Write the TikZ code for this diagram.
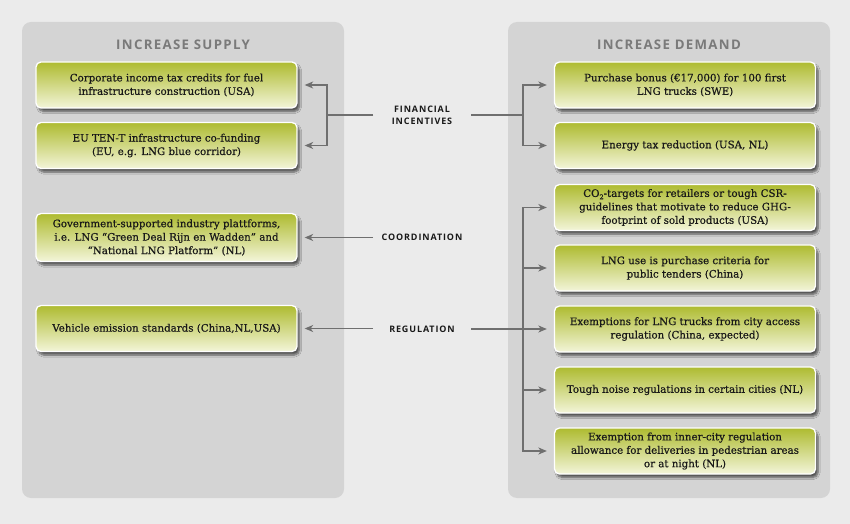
\documentclass[tikz,border=0pt]{standalone}
\usepackage{fontspec}
\setmainfont[FakeBold=0.6]{DejaVu Serif}
\newfontfamily\labfont[LetterSpace=10]{Open Sans}
\newfontfamily\titfont[LetterSpace=10]{Open Sans}
\usetikzlibrary{arrows.meta,shadows.blur}
\definecolor{bgc}{HTML}{EBEBEB}
\definecolor{panelc}{HTML}{D4D4D4}
\definecolor{oltop}{HTML}{AEBB30}
\definecolor{olbot}{HTML}{F3F5D9}
\definecolor{linec}{HTML}{6F6F6F}
\definecolor{titc}{HTML}{7A7A7A}
\tikzset{
  box/.style={draw=white, line width=1.3bp, rounded corners=5bp,
    top color=oltop, bottom color=olbot, middle color=oltop!50!olbot,
    minimum width=261bp, minimum height=46bp, align=center, inner sep=2bp,
    font=\fontsize{10.3}{13.5}\selectfont, text=black!90,
    blur shadow={shadow xshift=2.5bp, shadow yshift=-3.5bp, shadow opacity=60, shadow blur steps=6}},
  panel/.style={fill=panelc, rounded corners=9bp},
  lab/.style={font=\labfont\bfseries\fontsize{9}{12}\selectfont, text=black!90, align=center},
  tit/.style={font=\titfont\bfseries\fontsize{13.3}{15}\selectfont, text=titc},
  arr/.style={draw=linec, line width=1.7bp, -{Stealth[length=8.5bp,width=7bp,inset=2.5bp]}, shorten >=7bp},
}
\begin{document}
\begin{tikzpicture}[x=1bp,y=-1bp]
\fill[bgc] (0,0) rectangle (850,524);
\useasboundingbox (0,0) rectangle (850,524);
\fill[panel] (22,22) rectangle (344,498);
\fill[panel] (508,22) rectangle (830,498);
\node[tit] (tL) at (183,45) {INCREASE SUPPLY};
\node[tit] (tR) at (669,45) {INCREASE DEMAND};

\node[box] (L1) at (166.5,85) {Corporate income tax credits for fuel\\infrastructure construction (USA)};
\node[box] (L2) at (166.5,145.5) {EU TEN-T infrastructure co-funding\\(EU, e.g. LNG blue corridor)};
\node[box, minimum height=48bp] (L3) at (166.5,237.5) {Government-supported industry plattforms,\\i.e. LNG “Green Deal Rijn en Wadden” and\\“National LNG Platform” (NL)};
\node[box] (L4) at (166.5,328.5) {Vehicle emission standards (China,NL,USA)};

\node[box] (R1) at (685,85) {Purchase bonus (€17,000) for 100 first\\LNG trucks (SWE)};
\node[box] (R2) at (685,145.5) {Energy tax reduction (USA, NL)};
\node[box] (R3) at (685,207.5) {CO\raisebox{-0.45ex}{\fontsize{6.5}{6.5}\selectfont 2}-targets for retailers or tough CSR-\\guidelines that motivate to reduce GHG-\\footprint of sold products (USA)};
\node[box] (R4) at (685,268) {LNG use is purchase criteria for\\public tenders (China)};
\node[box] (R5) at (685,329) {Exemptions for LNG trucks from city access\\regulation (China, expected)};
\node[box] (R6) at (685,390) {Tough noise regulations in certain cities (NL)};
\node[box] (R7) at (685,451) {Exemption from inner-city regulation\\allowance for deliveries in pedestrian areas\\or at night (NL)};

\node[lab] (fin) at (422,115) {FINANCIAL\\INCENTIVES};
\node[lab] (coo) at (422,237.5) {COORDINATION};
\node[lab] (reg) at (422,329) {REGULATION};

\coordinate (finL) at (373,115);
\coordinate (finR) at (471,115);
\coordinate (cooL) at (373,237.5);
\coordinate (regL) at (373,328.5);
\coordinate (regR) at (471,329);

\draw[arr] (finL) -- ++(-46,0) |- (L1.east);
\draw[arr] (finL) -- ++(-46,0) |- (L2.east);
\draw[arr] (finR) -- ++(52,0) |- (R1.west);
\draw[arr] (finR) -- ++(52,0) |- (R2.west);
\draw[arr] (cooL) -- (L3.east);
\draw[arr] (regL) -- (L4.east);
\draw[arr] (regR) -- (R5.west);
\draw[arr] (regR) -- ++(52,0) |- (R3.west);
\draw[arr] (regR) -- ++(52,0) |- (R4.west);
\draw[arr] (regR) -- ++(52,0) |- (R6.west);
\draw[arr] (regR) -- ++(52,0) |- (R7.west);
\end{tikzpicture}
\end{document}
